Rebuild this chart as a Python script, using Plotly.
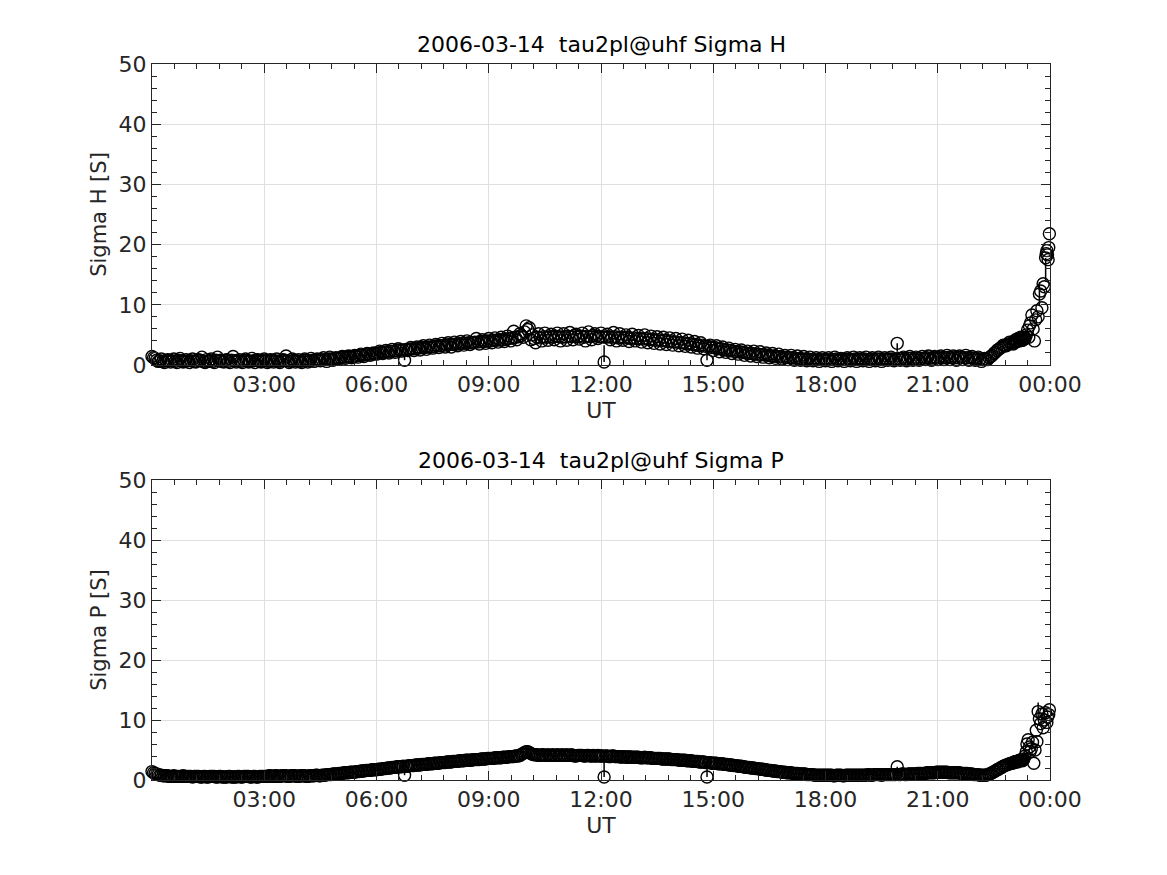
import pandas as pd
import plotly.graph_objects as go

# ---------------- data ----------------
DAY = "2006-03-14"
# 5-minute samples 00:00 .. 22:55 (12 per hour)
sigma_h_main = [
    1.4, 1.1, 0.6, 1.0, 0.4, 0.9, 0.5, 1.0, 0.4, 1.1, 0.5, 0.9,
    0.4, 1.0, 0.5, 0.9, 1.3, 0.4, 0.6, 1.0, 0.4, 1.3, 0.8, 0.5,
    0.9, 0.4, 1.4, 0.5, 0.9, 0.4, 1.0, 0.5, 1.1, 0.4, 0.9, 0.5,
    1.0, 0.4, 0.9, 0.5, 1.0, 0.4, 0.9, 1.5, 0.4, 1.0, 0.5, 0.9,
    0.4, 1.0, 0.5, 1.1, 0.6, 1.0, 0.7, 1.2, 0.6, 1.3, 0.8, 1.2,
    1.0, 1.4, 1.1, 1.5, 1.2, 1.6, 1.3, 1.8, 1.4, 1.9, 1.6, 2.0,
    1.8, 2.3, 1.9, 2.4, 2.0, 2.6, 2.1, 2.7, 2.3, 0.8, 2.4, 2.9,
    2.4, 3.0, 2.5, 3.2, 2.6, 3.3, 2.8, 3.4, 2.9, 3.6, 3.0, 3.7,
    3.0, 3.8, 3.2, 3.9, 3.3, 4.0, 3.4, 3.7, 4.4, 3.5, 4.2, 3.6,
    4.4, 3.7, 4.5, 3.8, 4.6, 3.9, 4.8, 4.0, 5.6, 4.2, 5.2, 4.6,
    6.5, 6.2, 5.0, 3.7, 5.2, 4.0, 5.3, 4.1, 5.1, 4.2, 5.3, 4.0,
    5.2, 4.1, 5.4, 4.2, 5.1, 4.3, 5.3, 4.0, 5.5, 4.2, 5.2, 4.4,
    5.3, 0.5, 5.1, 4.2, 5.4, 4.0, 5.2, 4.1, 5.0, 3.9, 5.1, 4.0,
    4.9, 3.8, 5.0, 3.7, 4.8, 3.6, 4.7, 3.5, 4.6, 3.4, 4.5, 3.3,
    4.4, 3.2, 4.3, 3.1, 4.1, 3.0, 3.9, 2.8, 3.7, 2.7, 0.8, 3.3,
    2.4, 3.2, 2.2, 3.0, 2.1, 2.8, 1.9, 2.6, 1.8, 2.5, 1.6, 2.3,
    1.5, 2.3, 1.4, 2.2, 1.3, 2.0, 1.2, 1.9, 1.1, 1.8, 1.0, 1.6,
    0.9, 1.6, 0.8, 1.5, 0.8, 1.4, 0.7, 1.3, 0.7, 1.2, 0.6, 1.2,
    0.7, 1.2, 0.6, 1.3, 0.7, 1.1, 0.6, 1.2, 0.7, 1.3, 0.6, 1.2,
    0.7, 1.3, 0.6, 1.2, 0.7, 1.3, 0.6, 1.2, 0.8, 1.3, 0.7, 3.6,
    0.8, 1.3, 0.7, 1.4, 0.8, 1.3, 0.8, 1.4, 0.9, 1.5, 0.8, 1.4,
    0.9, 1.5, 0.9, 1.6, 0.9, 1.5, 0.8, 1.5, 0.9, 1.6, 0.8, 1.4,
    0.8, 1.3, 0.6, 1.1, 0.9, 1.4, 1.9, 2.4, 2.8, 3.3, 3.2, 3.8,
]
# samples at 2.5 min past each of the above times (00:02:30 .. 22:57:30)
sigma_h_mid = [
    1.2, 0.8, 0.7, 0.6, 0.7, 0.8, 0.7, 0.6, 0.8, 0.7, 0.6, 0.7,
    0.7, 0.6, 0.8, 0.7, 0.6, 0.9, 0.7, 0.6, 0.8, 0.7, 0.6, 0.8,
    0.6, 0.8, 0.7, 0.7, 0.6, 0.8, 0.7, 0.6, 0.7, 0.8, 0.6, 0.7,
    0.7, 0.6, 0.8, 0.7, 0.6, 0.7, 0.8, 0.7, 0.6, 0.8, 0.7, 0.6,
    0.7, 0.8, 0.7, 0.8, 0.9, 0.8, 0.9, 0.9, 1.0, 1.0, 1.1, 1.1,
    1.2, 1.3, 1.3, 1.4, 1.4, 1.5, 1.6, 1.6, 1.7, 1.8, 1.8, 1.9,
    2.0, 2.1, 2.1, 2.2, 2.3, 2.3, 2.4, 2.5, 2.5, 2.6, 2.6, 2.7,
    2.7, 2.8, 2.9, 2.9, 3.0, 3.0, 3.1, 3.2, 3.2, 3.3, 3.3, 3.4,
    3.4, 3.5, 3.5, 3.6, 3.6, 3.7, 3.7, 3.8, 3.8, 3.9, 3.9, 4.0,
    4.0, 4.1, 4.1, 4.2, 4.2, 4.3, 4.4, 4.5, 4.6, 4.7, 4.9, 5.5,
    5.9, 4.2, 4.4, 4.6, 4.5, 4.7, 4.6, 4.7, 4.6, 4.8, 4.7, 4.6,
    4.7, 4.8, 4.7, 4.9, 4.7, 4.8, 4.6, 4.8, 4.7, 4.9, 4.8, 4.7,
    4.7, 4.6, 4.7, 4.6, 4.7, 4.5, 4.6, 4.5, 4.6, 4.4, 4.5, 4.4,
    4.4, 4.3, 4.4, 4.2, 4.3, 4.1, 4.2, 4.0, 4.1, 3.9, 4.0, 3.8,
    3.8, 3.7, 3.7, 3.5, 3.6, 3.4, 3.4, 3.2, 3.3, 3.1, 3.1, 2.9,
    2.9, 2.7, 2.7, 2.5, 2.5, 2.4, 2.3, 2.2, 2.2, 2.1, 2.0, 1.9,
    1.9, 1.8, 1.8, 1.7, 1.7, 1.6, 1.5, 1.5, 1.4, 1.4, 1.3, 1.3,
    1.2, 1.2, 1.1, 1.1, 1.0, 1.0, 1.0, 0.9, 0.9, 0.9, 0.9, 0.9,
    0.9, 0.9, 0.9, 1.0, 0.9, 0.9, 0.9, 1.0, 0.9, 1.0, 0.9, 1.0,
    1.0, 0.9, 1.0, 0.9, 1.0, 1.0, 0.9, 1.0, 1.0, 1.0, 1.0, 1.1,
    1.1, 1.0, 1.1, 1.1, 1.0, 1.1, 1.1, 1.1, 1.2, 1.1, 1.2, 1.2,
    1.2, 1.2, 1.2, 1.3, 1.2, 1.2, 1.2, 1.3, 1.2, 1.2, 1.2, 1.1,
    1.1, 1.0, 0.9, 0.9, 1.2, 1.6, 2.1, 2.6, 3.0, 3.2, 3.5, 3.6,
]
sigma_p_main = [
    1.4, 1.1, 0.9, 0.8, 0.7, 0.7, 0.6, 0.7, 0.6, 0.6, 0.7, 0.6,
    0.6, 0.5, 0.6, 0.6, 0.5, 0.6, 0.5, 0.6, 0.6, 0.5, 0.6, 0.5,
    0.5, 0.6, 0.5, 0.5, 0.6, 0.5, 0.6, 0.6, 0.5, 0.6, 0.5, 0.6,
    0.6, 0.6, 0.7, 0.6, 0.7, 0.6, 0.7, 0.7, 0.6, 0.7, 0.7, 0.6,
    0.7, 0.7, 0.6, 0.7, 0.7, 0.8, 0.7, 0.8, 0.9, 0.9, 1.0, 1.0,
    1.1, 1.1, 1.2, 1.2, 1.3, 1.3, 1.4, 1.5, 1.5, 1.6, 1.6, 1.7,
    1.7, 1.8, 1.9, 1.9, 2.0, 2.1, 2.1, 2.2, 2.2, 0.8, 2.3, 2.4,
    2.4, 2.5, 2.5, 2.6, 2.6, 2.7, 2.7, 2.8, 2.8, 2.9, 2.9, 3.0,
    3.0, 3.1, 3.1, 3.2, 3.2, 3.3, 3.3, 3.4, 3.4, 3.4, 3.5, 3.5,
    3.6, 3.6, 3.7, 3.7, 3.7, 3.8, 3.8, 3.9, 3.9, 4.0, 4.1, 4.4,
    4.7, 4.6, 4.3, 4.2, 4.1, 4.2, 4.1, 4.2, 4.1, 4.1, 4.2, 4.1,
    4.1, 4.2, 4.1, 4.1, 4.0, 4.1, 4.1, 4.0, 4.1, 4.0, 4.0, 4.1,
    4.0, 0.5, 4.0, 3.9, 4.0, 3.9, 3.9, 3.9, 3.8, 3.9, 3.8, 3.8,
    3.8, 3.7, 3.8, 3.7, 3.7, 3.6, 3.6, 3.6, 3.5, 3.5, 3.5, 3.4,
    3.4, 3.3, 3.3, 3.3, 3.2, 3.2, 3.1, 3.1, 3.0, 3.0, 0.5, 2.9,
    2.8, 2.8, 2.7, 2.7, 2.6, 2.5, 2.5, 2.4, 2.3, 2.3, 2.2, 2.1,
    2.0, 2.0, 1.9, 1.8, 1.8, 1.7, 1.6, 1.5, 1.5, 1.4, 1.3, 1.3,
    1.2, 1.2, 1.1, 1.1, 1.0, 1.0, 0.9, 0.9, 0.9, 0.8, 0.8, 0.8,
    0.8, 0.8, 0.8, 0.7, 0.8, 0.8, 0.7, 0.8, 0.8, 0.8, 0.8, 0.8,
    0.8, 0.8, 0.9, 0.8, 0.9, 0.9, 0.8, 0.9, 0.9, 0.9, 0.9, 2.2,
    0.9, 1.0, 0.9, 1.0, 1.0, 1.0, 1.1, 1.1, 1.1, 1.2, 1.2, 1.2,
    1.3, 1.3, 1.3, 1.3, 1.2, 1.2, 1.2, 1.2, 1.1, 1.1, 1.0, 1.0,
    0.9, 0.9, 0.8, 0.8, 0.9, 1.1, 1.4, 1.7, 2.0, 2.3, 2.5, 2.7,
]
sigma_p_mid = [
    1.2, 1.0, 0.8, 0.7, 0.7, 0.6, 0.6, 0.6, 0.6, 0.6, 0.6, 0.6,
    0.6, 0.6, 0.6, 0.5, 0.6, 0.5, 0.6, 0.6, 0.5, 0.6, 0.5, 0.5,
    0.6, 0.5, 0.5, 0.6, 0.5, 0.6, 0.6, 0.5, 0.6, 0.5, 0.6, 0.6,
    0.6, 0.7, 0.6, 0.7, 0.6, 0.7, 0.7, 0.6, 0.7, 0.7, 0.6, 0.7,
    0.7, 0.6, 0.7, 0.7, 0.8, 0.7, 0.8, 0.8, 0.9, 0.9, 1.0, 1.0,
    1.1, 1.2, 1.2, 1.3, 1.3, 1.4, 1.4, 1.5, 1.6, 1.6, 1.7, 1.7,
    1.8, 1.8, 1.9, 2.0, 2.0, 2.1, 2.2, 2.2, 2.3, 2.3, 2.4, 2.4,
    2.5, 2.5, 2.6, 2.6, 2.7, 2.7, 2.8, 2.8, 2.9, 2.9, 3.0, 3.0,
    3.1, 3.1, 3.2, 3.2, 3.3, 3.3, 3.3, 3.4, 3.4, 3.5, 3.5, 3.6,
    3.6, 3.6, 3.7, 3.7, 3.8, 3.8, 3.9, 3.9, 4.0, 4.0, 4.3, 4.6,
    4.7, 4.4, 4.2, 4.2, 4.1, 4.2, 4.1, 4.1, 4.2, 4.1, 4.1, 4.2,
    4.1, 4.1, 4.2, 4.0, 4.1, 4.1, 4.0, 4.1, 4.0, 4.1, 4.0, 4.0,
    4.0, 4.0, 3.9, 4.0, 3.9, 3.9, 3.8, 3.9, 3.8, 3.8, 3.8, 3.8,
    3.7, 3.7, 3.7, 3.7, 3.6, 3.6, 3.6, 3.5, 3.5, 3.5, 3.4, 3.4,
    3.4, 3.3, 3.3, 3.2, 3.2, 3.1, 3.1, 3.0, 3.0, 2.9, 2.9, 2.8,
    2.8, 2.7, 2.7, 2.6, 2.6, 2.5, 2.4, 2.4, 2.3, 2.2, 2.1, 2.1,
    2.0, 1.9, 1.9, 1.8, 1.7, 1.6, 1.6, 1.5, 1.4, 1.4, 1.3, 1.2,
    1.2, 1.1, 1.1, 1.0, 1.0, 1.0, 0.9, 0.9, 0.8, 0.8, 0.8, 0.8,
    0.8, 0.8, 0.7, 0.8, 0.8, 0.7, 0.8, 0.8, 0.8, 0.8, 0.8, 0.8,
    0.8, 0.9, 0.8, 0.9, 0.9, 0.9, 0.9, 0.9, 0.9, 0.9, 0.9, 0.9,
    1.0, 0.9, 1.0, 1.0, 1.0, 1.1, 1.1, 1.1, 1.2, 1.2, 1.2, 1.3,
    1.3, 1.3, 1.3, 1.2, 1.2, 1.2, 1.2, 1.1, 1.1, 1.1, 1.0, 0.9,
    0.9, 0.8, 0.8, 0.8, 1.0, 1.2, 1.5, 1.8, 2.1, 2.4, 2.6, 2.8,
]

# last hour (denser, scattered): minutes after 23:00
tail_h_min = [0, 1, 2, 3, 4, 5, 6, 7, 8, 9, 10, 11, 12, 13, 14, 15, 16, 17, 18, 19, 20, 22,
              24, 26, 27, 29, 31, 33, 35, 37, 39, 41, 43, 45, 47, 49, 51, 53, 54, 55, 56,
              57, 58, 59]
tail_h_val = [3.7, 3.5, 3.9, 4.0, 3.8, 4.2, 4.1, 3.9, 4.0, 4.4, 4.3, 4.0, 4.2, 4.6, 4.5, 4.1,
              4.1, 4.4, 4.6, 4.3, 4.4, 5.0, 5.8, 4.6, 6.5, 7.0, 8.3, 6.0, 4.0, 7.5, 9.0, 8.0,
              11.8, 12.3, 9.5, 13.5, 13.0, 17.8, 18.5, 19.0, 18.3, 17.5, 19.5, 21.8]
tail_p_min = [0, 1, 2, 3, 4, 5, 6, 7, 8, 9, 10, 11, 12, 13, 14, 15, 16, 17, 18, 20, 22, 23,
              25, 27, 28, 30, 32, 34, 36, 38, 39, 41, 43, 45, 47, 49, 51, 53, 55, 56, 58, 59]
tail_p_val = [2.8, 2.9, 2.9, 3.0, 3.0, 3.1, 3.1, 3.1, 3.0, 3.1, 3.2, 3.2, 3.3, 3.3, 3.4, 3.3,
              3.2, 3.4, 3.5, 4.0, 4.7, 6.0, 6.7, 5.5, 4.7, 5.2, 6.3, 2.8, 5.0, 8.3, 6.4, 11.4,
              10.2, 9.4, 11.0, 8.7, 10.0, 11.2, 9.6, 10.5, 10.9, 11.7]

# error bars (time -> (plus, minus)); all others negligible
err_h = {"06:45": (1.2, 0.0), "12:05": (2.8, 0.0), "14:50": (1.2, 0.0), "19:55": (0.0, 1.4),
         "23:43": (2.0, 2.0), "23:53": (0.0, 4.0)}
err_p = {"06:45": (1.0, 0.0), "12:05": (2.5, 0.0), "14:50": (1.5, 0.0), "19:55": (0.0, 1.0),
         "23:41": (1.5, 1.5)}

xtick_labels = ["03:00", "06:00", "09:00", "12:00", "15:00", "18:00", "21:00", "00:00"]
titles = ["2006-03-14  tau2pl@uhf Sigma H", "2006-03-14  tau2pl@uhf Sigma P"]
ylabels = ["Sigma H [S]", "Sigma P [S]"]

# ---------------- build ----------------
def series(main, mid, tmin, tval, errs):
    t = list(pd.date_range(f"{DAY} 00:00", periods=len(main), freq="5min"))
    t += list(pd.date_range(f"{DAY} 00:02:30", periods=len(mid), freq="5min"))
    t += [pd.Timestamp(f"{DAY} 23:00") + pd.Timedelta(minutes=m) for m in tmin]
    v = list(main) + list(mid) + list(tval)
    plus, minus = [], []
    for ts in t:
        key = ts.strftime("%H:%M") if ts.second == 0 else None
        p, m = errs.get(key, (0.0, 0.0))
        plus.append(p)
        minus.append(m)
    return t, v, plus, minus

tick_vals = [pd.Timestamp(DAY) + pd.Timedelta(hours=3 * (i + 1)) for i in range(len(xtick_labels))]

fig = go.Figure()
INK = "#262626"
FONT = "DejaVu Sans"

for k, (main, mid, tmin, tval, errs) in enumerate([
        (sigma_h_main, sigma_h_mid, tail_h_min, tail_h_val, err_h),
        (sigma_p_main, sigma_p_mid, tail_p_min, tail_p_val, err_p)]):
    t, v, plus, minus = series(main, mid, tmin, tval, errs)
    fig.add_trace(go.Scatter(
        x=t, y=v, mode="markers",
        xaxis="x" if k == 0 else "x2", yaxis="y" if k == 0 else "y2",
        marker=dict(symbol="circle-open", size=12, color="black", line=dict(width=1.4, color="black")),
        error_y=dict(type="data", symmetric=False, array=plus, arrayminus=minus,
                     color="black", thickness=1.5, width=0),
        cliponaxis=False, showlegend=False))

def xax(anchor):
    return dict(
        type="date", range=[pd.Timestamp(DAY), pd.Timestamp(DAY) + pd.Timedelta(hours=24)],
        tickvals=tick_vals, ticktext=xtick_labels, anchor=anchor,
        showline=True, linecolor=INK, linewidth=1, mirror="ticks",
        ticks="inside", ticklen=9, tickcolor=INK, tickwidth=1,
        showgrid=True, gridcolor="#dfdfdf", gridwidth=1, zeroline=False,
        minor=dict(dtick=36 * 60 * 1000, tick0=DAY, ticks="inside", ticklen=5,
                   tickcolor=INK, showgrid=False),
        tickfont=dict(family=FONT, size=22, color=INK),
        title=dict(text="UT", font=dict(family=FONT, size=22, color=INK), standoff=6),
    )

def yax(anchor, domain, label):
    return dict(
        domain=domain, range=[0, 50], tickvals=[0, 10, 20, 30, 40, 50], anchor=anchor,
        showline=True, linecolor=INK, linewidth=1, mirror="ticks",
        ticks="inside", ticklen=9, tickcolor=INK, tickwidth=1,
        showgrid=True, gridcolor="#dfdfdf", gridwidth=1, zeroline=False,
        minor=dict(dtick=2, ticks="inside", ticklen=5, tickcolor=INK, showgrid=False),
        tickfont=dict(family=FONT, size=22, color=INK),
        ticklabelstandoff=0,
        title=dict(text=label, font=dict(family=FONT, size=21, color=INK), standoff=6),
    )

top_dom = [(780 - 365) / 716, 1.0]
bot_dom = [0.0, 300 / 716]

fig.update_layout(
    width=1159, height=867,
    margin=dict(l=144, r=117, t=56, b=95),
    paper_bgcolor="white", plot_bgcolor="white",
    xaxis=xax("y"), yaxis=yax("x", top_dom, ylabels[0]),
    xaxis2=xax("y2"), yaxis2=yax("x2", bot_dom, ylabels[1]),
    annotations=[
        dict(text=titles[0], x=0.5, y=1.0, xref="paper", yref="paper", yanchor="bottom",
             yshift=5, showarrow=False, font=dict(family=FONT, size=22, color="black")),
        dict(text=titles[1], x=0.5, y=300 / 716, xref="paper", yref="paper", yanchor="bottom",
             yshift=5, showarrow=False, font=dict(family=FONT, size=22, color="black")),
    ],
)

fig.write_html("out.html")
